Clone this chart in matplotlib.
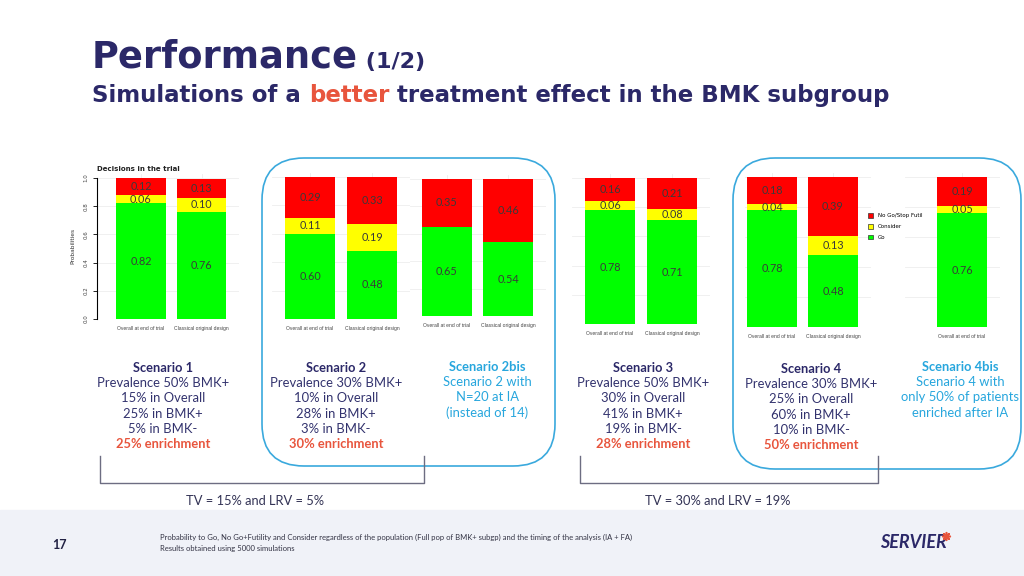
import matplotlib
matplotlib.use("Agg")
import matplotlib.pyplot as plt
from matplotlib.patches import FancyBboxPatch, Rectangle, Patch
import numpy as np

# ---------------- data ----------------
categories = ["Overall at end of trial", "Classical original design"]
categories_4bis = ["Overall at end of trial"]

s1_go, s1_consider, s1_nogo = [0.82, 0.76], [0.06, 0.10], [0.12, 0.13]
s2_go, s2_consider, s2_nogo = [0.60, 0.48], [0.11, 0.19], [0.29, 0.33]
s2bis_go, s2bis_consider, s2bis_nogo = [0.65, 0.54], [0.0, 0.0], [0.35, 0.46]
s3_go, s3_consider, s3_nogo = [0.78, 0.71], [0.06, 0.08], [0.16, 0.21]
s4_go, s4_consider, s4_nogo = [0.78, 0.48], [0.04, 0.13], [0.18, 0.39]
s4bis_go, s4bis_consider, s4bis_nogo = [0.76], [0.05], [0.19]

legend_labels = ["No Go/Stop Futil", "Consider", "Go"]
y_ticks = [0.0, 0.2, 0.4, 0.6, 0.8, 1.0]

scen_titles = ["Scenario 1", "Scenario 2", "Scenario 2bis", "Scenario 3", "Scenario 4", "Scenario 4bis"]
scen_lines = [
    ["Prevalence 50% BMK+", "15% in Overall", "25% in BMK+", "5% in BMK-"],
    ["Prevalence 30% BMK+", "10% in Overall", "28% in BMK+", "3% in BMK-"],
    ["Scenario 2 with", "N=20 at IA", "(instead of 14)"],
    ["Prevalence 50% BMK+", "30% in Overall", "41% in BMK+", "19% in BMK-"],
    ["Prevalence 30% BMK+", "25% in Overall", "60% in BMK+", "10% in BMK-"],
    ["Scenario 4 with", "only 50% of patients", "enriched after IA"],
]
scen_enrich = ["25% enrichment", "30% enrichment", None, "28% enrichment", "50% enrichment", None]
tv_labels = ["TV = 15% and LRV = 5%", "TV = 30% and LRV = 19%"]
footnotes = ["Probability to Go, No Go+Futility and Consider regardless of the population (Full pop of BMK+ subgp) and the timing of the analysis (IA + FA)",
             "Results obtained using 5000 simulations"]

# ---------------- style ----------------
W, H = 1024, 576
NAVY = "#2b2868"
TXT = "#33336e"
ORANGE = "#e8553d"
CYAN = "#27a6dd"
BOXBLUE = "#3aa9dd"
RED, YELLOW, GREEN = "#ff0000", "#ffff00", "#00ff00"
FONT = "Lato"
TFONT = "DejaVu Sans"

fig = plt.figure(figsize=(10.24, 5.76), dpi=100)
ov = fig.add_axes([0, 0, 1, 1], zorder=0)
ov.set_xlim(0, W)
ov.set_ylim(H, 0)
ov.axis("off")

# footer band
ov.add_patch(Rectangle((0, 510), W, 66, color="#f0f2f8", zorder=0))


def draw_panel(left_px, c0_px, spacing_px, y0_px, y1_px, go, con, nogo, cats,
               yaxis=False, title=None, n_slots=None):
    n = len(go) if n_slots is None else n_slots
    x = np.arange(len(go))
    x_left = -(c0_px - left_px) / spacing_px
    x_right = n - 1 + 0.62
    w_px = (x_right - x_left) * spacing_px
    top = 1.03
    h_px = (y0_px - y1_px) * top
    ax = fig.add_axes([left_px / W, 1 - y0_px / H, w_px / W, h_px / H], zorder=2)
    ax.set_xlim(x_left, x_right)
    ax.set_ylim(0, top)
    ax.patch.set_alpha(0)
    for yy in y_ticks:
        ax.axhline(yy, color="#eeeeee", lw=0.6, zorder=0)
    for xx in range(n):
        ax.axvline(xx, color="#eeeeee", lw=0.6, zorder=0)
    go = np.array(go); con = np.array(con); nogo = np.array(nogo)
    ax.bar(x, go, width=0.82, color=GREEN, zorder=2)
    ax.bar(x, con, bottom=go, width=0.82, color=YELLOW, zorder=2)
    ax.bar(x, nogo, bottom=go + con, width=0.82, color=RED, zorder=2)
    for xi in x:
        for v, b in ((go[xi], 0), (con[xi], go[xi]), (nogo[xi], go[xi] + con[xi])):
            if v > 0:
                ax.text(xi, b + v / 2, f"{v:.2f}", ha="center", va="center",
                        fontsize=7.8, color="#3a3a3a", family=FONT, zorder=3)
    ax.set_xticks(x)
    ax.set_xticklabels(cats, fontsize=3.6, color="#444444", family="Liberation Sans")
    ax.tick_params(axis="x", length=0, pad=5)
    for s in ("top", "right", "bottom"):
        ax.spines[s].set_visible(False)
    if yaxis:
        ax.spines["left"].set_bounds(0, 1)
        ax.spines["left"].set_linewidth(0.8)
        ax.set_yticks(y_ticks)
        ax.set_yticklabels([f"{t:.1f}" for t in y_ticks], fontsize=4, rotation=90,
                           va="center", color="#444444")
        ax.tick_params(axis="y", length=3, width=0.6, pad=3)
        ax.set_ylabel("Probabilities", fontsize=4.2, color="#333333", labelpad=6)
    else:
        ax.spines["left"].set_visible(False)
        ax.set_yticks([])
    if title:
        ax.text(x_left, 1.045, title, fontsize=5, fontweight="bold", color="#222222",
                ha="left", va="bottom")
    return ax


draw_panel(97, 141, 60.5, 319, 178, s1_go, s1_consider, s1_nogo, categories,
           yaxis=True, title="Decisions in the trial")
draw_panel(272, 310, 62, 319, 177, s2_go, s2_consider, s2_nogo, categories)
draw_panel(410, 447, 61, 316, 179, s2bis_go, s2bis_consider, s2bis_nogo, categories)
draw_panel(572, 610, 62, 324, 178, s3_go, s3_consider, s3_nogo, categories)
draw_panel(745, 772, 61, 327, 177, s4_go, s4_consider, s4_nogo, categories)
draw_panel(905, 962, 61, 327, 177, s4bis_go, s4bis_consider, s4bis_nogo, categories_4bis)

handles = [Patch(facecolor=c, edgecolor="#333333", lw=0.5) for c in (RED, YELLOW, GREEN)]
fig.legend(handles, legend_labels, loc="upper left", bbox_to_anchor=(866 / W, 1 - 211 / H),
           frameon=False, fontsize=4, handlelength=0.9, handleheight=0.9,
           handletextpad=0.8, labelspacing=1.0, borderaxespad=0)

# rounded boxes
for (l, t, r, b) in ((262, 158, 555, 466), (733, 158, 1021, 469)):
    ov.add_patch(FancyBboxPatch((l, t), r - l, b - t,
                                boxstyle="round,pad=0,rounding_size=42",
                                fill=False, ec=BOXBLUE, lw=1.2, zorder=1))

# brackets
for (l, r) in ((100, 424), (580, 878)):
    ov.plot([l, l, r, r], [456, 483, 483, 456], color="#6d6d82", lw=1.0, zorder=1)

# scenario text
scen_cx = [163, 336, 487, 643, 811, 960]
scen_y0 = [368, 368, 367, 368, 369, 367]
for i in range(6):
    is_bis = scen_enrich[i] is None
    col = CYAN if is_bis else NAVY
    y = scen_y0[i]
    ov.text(scen_cx[i], y, scen_titles[i], ha="center", va="center", fontsize=9.3,
            fontweight="bold", color=col, family=FONT)
    for ln in scen_lines[i]:
        y += 15.2
        ov.text(scen_cx[i], y, ln, ha="center", va="center", fontsize=9.4,
                color=CYAN if is_bis else TXT, family=FONT)
    if scen_enrich[i]:
        y += 15.6
        ov.text(scen_cx[i], y, scen_enrich[i], ha="center", va="center", fontsize=9.3,
                fontweight="bold", color=ORANGE, family=FONT)

for cx, lab in zip((255, 718), tv_labels):
    ov.text(cx, 501, lab, ha="center", va="center", fontsize=9.3, color="#333355", family=FONT)

# title (chained text)
fig.canvas.draw()
renderer = fig.canvas.get_renderer()


def chain(x, y, parts, **kw):
    for s, props in parts:
        t = ov.text(x, y, s, va="baseline", ha="left", **kw, **props)
        bb = t.get_window_extent(renderer=renderer)
        x += bb.width
    return x


chain(92, 68, [("Performance", dict(fontsize=26.5, color=NAVY, fontweight="bold")),
               (" (1/2)", dict(fontsize=16, color=NAVY, fontweight="bold"))], family=TFONT)
chain(92, 102, [("Simulations of a ", dict(color=NAVY)), ("better", dict(color=ORANGE)),
                (" treatment effect in the BMK subgroup", dict(color=NAVY))],
      family=TFONT, fontsize=16.5, fontweight="bold")

# footer
ov.text(52, 545, "17", fontsize=9, fontweight="bold", color="#222244", va="center", family=FONT)
ov.text(160, 537, footnotes[0], fontsize=5.5, color="#333344", va="center", family=FONT)
ov.text(160, 548, footnotes[1], fontsize=5.5, color="#333344", va="center", family=FONT)
ov.text(880, 543, "SERVIER", fontsize=13, fontweight="bold", style="italic", color=NAVY,
        va="center", family=FONT)
ov.scatter([946], [536], marker=(8, 2, 0), s=30, color=ORANGE, lw=1.2, zorder=3)

fig.savefig("out.png", dpi=100)
